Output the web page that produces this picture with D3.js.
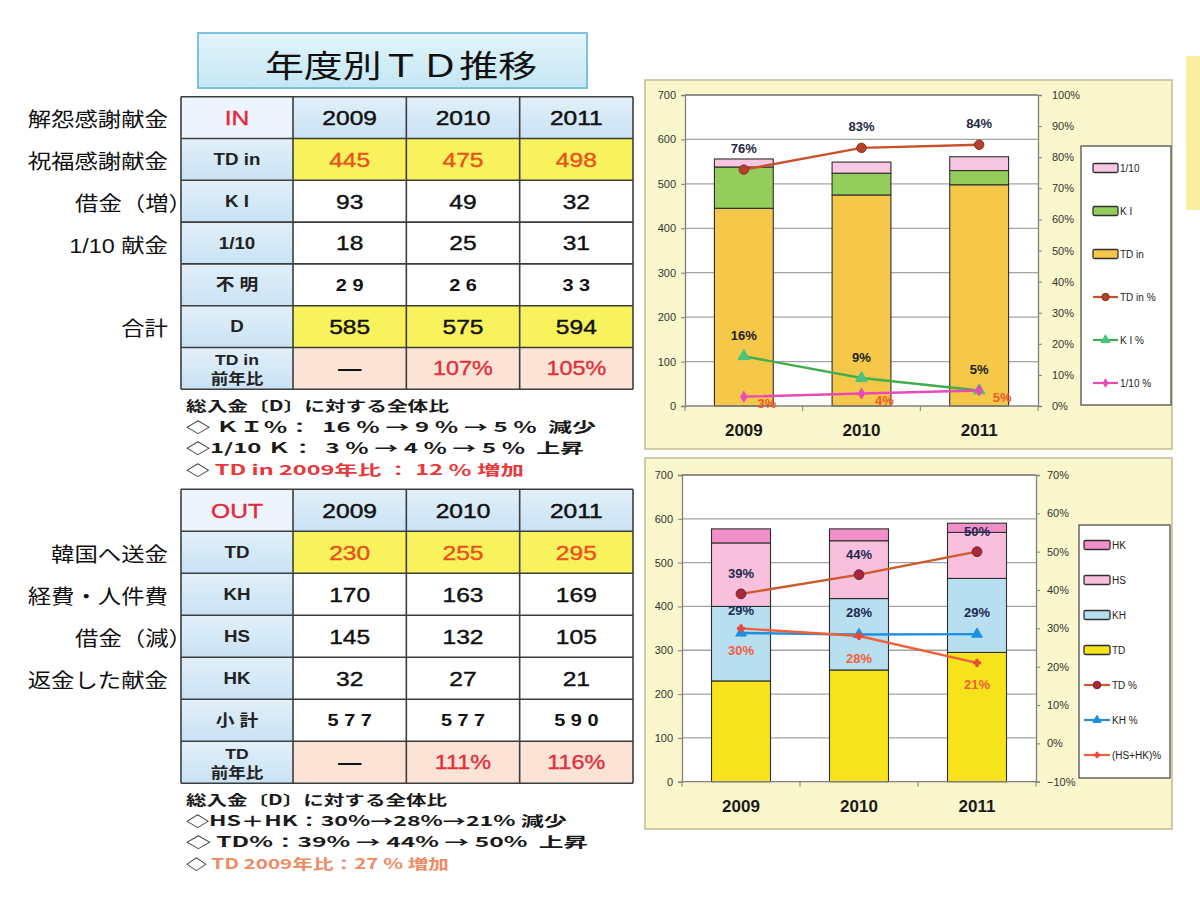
<!DOCTYPE html>
<html><head><meta charset="utf-8">
<script src="https://cdn.jsdelivr.net/npm/d3@7/dist/d3.min.js"></script>
<style>
body{margin:0;background:#fff;}
svg{display:block;font-family:"Liberation Sans","Noto Sans CJK JP",sans-serif;}
text{white-space:pre;}
</style>
</head><body>
<svg id="c" width="1200" height="900"></svg>
<script>
// ---------------- DATA ----------------
const years = ["2009","2010","2011"];
const pageTitle = "年度別ＴＤ推移";

// IN table
const inHeader = "IN";
const inCodes = ["TD in","K I","1/10","不 明","D","TD in|前年比"];
const inSideLabels = ["解怨感謝献金","祝福感謝献金","借金（増）","1/10 献金","","合計",""];
const inTD = [445,475,498];
const inKI = [93,49,32];
const inTenth = [18,25,31];
const inUnknown = [29,26,33];
const inTotal = [585,575,594];
const inTDRatio = ["—","107%","105%"];
const inNotes = ["総入金〔D〕に対する全体比",
                 "◇ ＫＩ％：  16 ％ → 9 ％ → 5 ％  減少",
                 "◇1/10 Ｋ：  3 ％ → 4 ％ → 5 ％  上昇",
                 "TD in 2009年比 ： 12 ％ 増加"];

// OUT table
const outHeader = "OUT";
const outCodes = ["TD","KH","HS","HK","小 計","TD|前年比"];
const outSideLabels = ["","韓国へ送金","経費・人件費","借金（減）","返金した献金","",""];
const outTD = [230,255,295];
const outKH = [170,163,169];
const outHS = [145,132,105];
const outHK = [32,27,21];
const outSubtotal = [577,577,590];
const outTDRatio = ["—","111%","116%"];
const outNotes = ["総入金〔D〕に対する全体比",
                  "◇HS＋HK：30%→28%→21% 減少",
                  "◇ TD%：39% → 44% → 50%  上昇",
                  "TD 2009年比：27 % 増加"];

// chart line series (percent of total)
const tdInPct = [76,83,84];
const kiPct = [16,9,5];
const tenthPct = [3,4,5];
const tdPct = [39,44,50];
const khPct = [28.8,28.4,28.5];
const khPctLabels = ["29%","28%","29%"];
const hsHkPct = [30,28,21];

// legend / series names
const inBarKeys = ["TD in","K I","1/10"];
const outBarKeys = ["TD","KH","HS","HK"];
const leftTicks = [0,100,200,300,400,500,600,700];
const topRightTicks = [0,10,20,30,40,50,60,70,80,90,100];
const bottomRightTicks = [-10,0,10,20,30,40,50,60,70];

// ---------------- DRAWING ----------------
const svg = d3.select("#c");
const defs = svg.append("defs");
const tg = defs.append("linearGradient").attr("id","titleG").attr("x1",0).attr("y1",0).attr("x2",0).attr("y2",1);
tg.append("stop").attr("offset","0%").attr("stop-color","#e4f5fb");
tg.append("stop").attr("offset","100%").attr("stop-color","#c4e6f3");
const bg = defs.append("linearGradient").attr("id","blueG").attr("x1",0).attr("y1",0).attr("x2",0).attr("y2",1);
bg.append("stop").attr("offset","0%").attr("stop-color","#e2f0fa");
bg.append("stop").attr("offset","100%").attr("stop-color","#c9e2f4");

// right edge yellow strip
svg.append("rect").attr("x",1186).attr("y",56).attr("width",14).attr("height",154).attr("fill","#f8f0a0");

// title
svg.append("rect").attr("x",198).attr("y",33).attr("width",389).attr("height",55)
  .attr("fill","url(#titleG)").attr("stroke","#7fc2dc").attr("stroke-width",2);
svg.append("text").attr("x",401).attr("y",63).attr("text-anchor","middle")
  .attr("dominant-baseline","central").attr("textLength",272).attr("lengthAdjust","spacingAndGlyphs")
  .style("font-size","31px").style("font-family","'Noto Sans CJK JP'").attr("fill","#111").text(pageTitle);

const SX = 1.17;
function stext(g, x, y, txt, o) {
  return g.append("text")
    .attr("transform", `translate(${x},${y}) scale(${SX},1)`)
    .attr("text-anchor", o.anchor || "middle")
    .attr("dominant-baseline","central")
    .style("font-size", o.size + "px")
    .style("font-weight", o.weight || "normal")
    .attr("fill", o.color || "#111")
    .attr("stroke", o.stroke ? (o.color || "#111") : null)
    .attr("stroke-width", o.stroke || null)
    .text(txt);
}

function drawTable(cfg) {
  const g = svg.append("g");
  const xLeft = 181, xCode = 293, xRight = 633;
  const nRows = cfg.codes.length + 1;
  const yB = d3.scaleBand().domain(d3.range(nRows)).range([cfg.top, cfg.bottom]);
  const xB = d3.scaleBand().domain(years).range([xCode, xRight]);
  const fills = {hi:"#f8f25c", plain:"#ffffff", small:"#ffffff", ratio:"#fbe3d6"};
  // header row
  g.append("rect").attr("x",xLeft).attr("y",yB(0)).attr("width",xCode-xLeft).attr("height",yB.bandwidth()).attr("fill","#eef4fb");
  years.forEach(y => g.append("rect").attr("x",xB(y)).attr("y",yB(0)).attr("width",xB.bandwidth()).attr("height",yB.bandwidth()).attr("fill","url(#blueG)"));
  stext(g, (xLeft+xCode)/2, yB(0)+yB.bandwidth()/2, cfg.header, {size:21, color:"#e2283a", stroke:0.4});
  years.forEach(y => stext(g, xB(y)+xB.bandwidth()/2, yB(0)+yB.bandwidth()/2, y, {size:21, stroke:0.45}));
  // body rows
  cfg.codes.forEach((code, r) => {
    const ri = r + 1, kind = cfg.kinds[r];
    const cy = yB(ri) + yB.bandwidth()/2;
    g.append("rect").attr("x",xLeft).attr("y",yB(ri)).attr("width",xCode-xLeft).attr("height",yB.bandwidth()).attr("fill","url(#blueG)");
    const parts = code.split("|");
    if (parts.length === 1) stext(g, (xLeft+xCode)/2, cy, code, {size:16, weight:"bold", color:"#222"});
    else parts.forEach((p,k) => stext(g, (xLeft+xCode)/2, cy + (k ? 10 : -9), p, {size:15, weight:"bold", color:"#222"}));
    years.forEach((y, j) => {
      g.append("rect").attr("x",xB(y)).attr("y",yB(ri)).attr("width",xB.bandwidth()).attr("height",yB.bandwidth())
        .attr("fill", fills[kind === "hiOrange" || kind === "hiBlack" ? "hi" : kind]);
      const v = cfg.rows[r][j];
      const cx = xB(y) + xB.bandwidth()/2;
      if (kind === "small") stext(g, cx, cy, String(v).split("").join(" "), {size:17, weight:"bold"});
      else if (kind === "ratio") {
        if (v === "—") stext(g, cx, cy, v, {size:20, weight:"bold", color:"#111"});
        else stext(g, cx, cy, v, {size:20, color:"#e2303a", stroke:0.35});
      }
      else stext(g, cx, cy, v, {size:21, color: kind === "hiOrange" ? "#e8521e" : "#111", stroke:0.4});
    });
  });
  // grid lines
  const xs = [xLeft, xCode, ...years.slice(1).map(y => xB(y)), xRight];
  xs.forEach(x => g.append("line").attr("x1",x).attr("x2",x).attr("y1",cfg.top).attr("y2",cfg.bottom).attr("stroke","#3d3d3d").attr("stroke-width",1.6));
  d3.range(nRows+1).map(i => i < nRows ? yB(i) : cfg.bottom).forEach(y =>
    g.append("line").attr("x1",xLeft).attr("x2",xRight).attr("y1",y).attr("y2",y).attr("stroke","#3d3d3d").attr("stroke-width",1.6));
  // side labels
  cfg.side.forEach((lab, i) => {
    if (!lab) return;
    const cy = yB(i) + yB.bandwidth()/2 + 3;
    const endX = lab.endsWith("）") ? 192 : 168;
    stext(g, endX, cy, lab, {size:20, anchor:"end", color:"#111"});
  });
  // notes
  const noteYs = [cfg.bottom + 16, cfg.bottom + 37, cfg.bottom + 58, cfg.bottom + 80];
  cfg.notes.forEach((n, i) => {
    const t = g.append("text").attr("x",186).attr("y",noteYs[i]).attr("dominant-baseline","central")
      .attr("textLength", cfg.noteW[i]).attr("lengthAdjust","spacingAndGlyphs")
      .style("font-family","'Noto Sans CJK JP'")
      .style("font-size","14px").style("font-weight","bold").attr("fill","#1a1a1a");
    if (i === 3) {
      t.append("tspan").text("◇ ");
      t.append("tspan").attr("fill", cfg.lastColor).text(n);
    } else t.text(n);
  });
}

drawTable({top:96.7, bottom:389.3, header:inHeader, codes:inCodes,
  rows:[inTD, inKI, inTenth, inUnknown, inTotal, inTDRatio],
  kinds:["hiOrange","plain","plain","small","hiBlack","ratio"],
  side:inSideLabels, notes:inNotes, noteW:[263,410,398,338], lastColor:"#e8383c"});
drawTable({top:489.3, bottom:783.3, header:outHeader, codes:outCodes,
  rows:[outTD, outKH, outHS, outHK, outSubtotal, outTDRatio],
  kinds:["hiOrange","plain","plain","plain","small","ratio"],
  side:outSideLabels, notes:outNotes, noteW:[261,381,402,263], lastColor:"#f08a62"});

// ---------------- CHARTS ----------------
function drawChart(cfg) {
  const g = svg.append("g");
  g.append("rect").attr("x",cfg.panel[0]).attr("y",cfg.panel[1]).attr("width",cfg.panel[2]).attr("height",cfg.panel[3])
    .attr("fill","#fbf7cc").attr("stroke","#c8c096").attr("stroke-width",1.6);
  const x = d3.scaleBand().domain(years).range([cfg.left, cfg.right]).paddingInner(0.5).paddingOuter(0.25);
  const cx = y => x(y) + x.bandwidth()/2;
  const yL = d3.scaleLinear().domain([0,700]).range([cfg.bottom, cfg.top]);
  const yR = d3.scaleLinear().domain(cfg.rDomain).range([cfg.bottom, cfg.top]);
  g.append("rect").attr("x",cfg.left).attr("y",cfg.top).attr("width",cfg.right-cfg.left).attr("height",cfg.bottom-cfg.top).attr("fill","#fff");
  // gridlines
  g.selectAll(".gl").data(leftTicks.filter(d => d > 0)).join("line")
    .attr("x1",cfg.left).attr("x2",cfg.right).attr("y1",d=>yL(d)).attr("y2",d=>yL(d))
    .attr("stroke", d => d === 700 ? "#6e6e6e" : "#a4a4a4").attr("stroke-width", d => d === 700 ? 1.6 : 1.3);
  // stacked bars
  const rows = years.map((y,i) => { const o = {year:y}; cfg.keys.forEach((k,j) => o[k] = cfg.values[j][i]); return o; });
  const stacked = d3.stack().keys(cfg.keys)(rows);
  stacked.forEach((layer, j) => {
    g.selectAll(null).data(layer).join("rect")
      .attr("x", d => x(d.data.year)).attr("width", x.bandwidth())
      .attr("y", d => yL(d[1])).attr("height", d => yL(d[0]) - yL(d[1]))
      .attr("fill", cfg.colors[j]).attr("stroke","#2e2e2e").attr("stroke-width",1.1);
  });
  // axes
  const axL = g.append("g").attr("transform",`translate(${cfg.left},0)`)
    .call(d3.axisLeft(yL).tickValues(leftTicks).tickSize(4).tickPadding(5));
  const axR = g.append("g").attr("transform",`translate(${cfg.right},0)`)
    .call(d3.axisRight(yR).tickValues(cfg.rTicks.map(d=>d/100)).tickFormat(d3.format(".0%")).tickSize(4).tickPadding(cfg.rPad));
  [axL, axR].forEach(a => {
    a.select(".domain").attr("stroke","#808080").attr("stroke-width",1.3);
    a.selectAll(".tick line").attr("stroke","#808080");
    a.selectAll("text").style("font-size","11px").attr("fill","#333").style("font-family","'Liberation Sans'");
  });
  const bx = g.append("g").attr("transform",`translate(0,${cfg.bottom})`);
  bx.append("line").attr("x1",cfg.left).attr("x2",cfg.right).attr("stroke","#808080").attr("stroke-width",1.3);
  d3.range(years.length+1).forEach(i => {
    const xx = cfg.left + i * x.step();
    bx.append("line").attr("x1",xx).attr("x2",xx).attr("y1",0).attr("y2",5).attr("stroke","#808080");
  });
  bx.call(d3.axisBottom(x).tickSize(0).tickPadding(18)).call(a => a.select(".domain").remove())
    .selectAll("text").style("font-size","17px").style("font-weight","bold").attr("fill","#1a1a1a");
  // lines
  cfg.lines.forEach(s => {
    const pts = s.values.map((v,i) => [cx(years[i]), yR(v/100)]);
    g.append("path").attr("d", d3.line()(pts)).attr("fill","none").attr("stroke",s.color).attr("stroke-width",2.4);
    g.selectAll(null).data(pts).join("path")
      .attr("transform", d => `translate(${d[0]},${d[1]})`)
      .attr("d", d3.symbol().type(s.symbol).size(s.size))
      .attr("fill", s.marker).attr("stroke", s.markerStroke || s.marker).attr("stroke-width",1);
    g.selectAll(null).data(pts).join("text")
      .attr("x", d => d[0] + s.dx).attr("y", d => d[1] + s.dy)
      .attr("text-anchor","middle").attr("dominant-baseline","central")
      .style("font-size","13px").style("font-weight","bold").attr("fill", s.labelColor)
      .text((d,i) => s.labels ? s.labels[i] : s.values[i] + "%");
  });
  // legend
  const L = cfg.legend;
  g.append("rect").attr("x",L.x).attr("y",L.y).attr("width",L.w).attr("height",L.h).attr("fill","#fff").attr("stroke","#505050").attr("stroke-width",1.3);
  const items = [...cfg.keys.map((k,j) => ({name:k, color:cfg.colors[j], bar:true})).reverse(),
                 ...cfg.lines.map(s => ({name:s.name, s}))];
  items.forEach((it, i) => {
    const yy = L.first + i * L.gap;
    if (it.bar) {
      g.append("rect").attr("x",L.sx).attr("y",yy-4.5).attr("width",L.sw).attr("height",9).attr("rx",1.5)
        .attr("fill",it.color).attr("stroke","#2e2e2e").attr("stroke-width",1.3);
    } else {
      g.append("line").attr("x1",L.sx).attr("x2",L.sx+L.sw).attr("y1",yy).attr("y2",yy).attr("stroke",it.s.color).attr("stroke-width",2.2);
      g.append("path").attr("transform",`translate(${L.sx+L.sw/2},${yy})`).attr("d",d3.symbol().type(it.s.symbol).size(it.s.size*0.6))
        .attr("fill",it.s.marker).attr("stroke",it.s.markerStroke || it.s.marker);
    }
    g.append("text").attr("x",L.sx+L.sw+2).attr("y",yy).attr("dominant-baseline","central")
      .style("font-size","10px").attr("fill","#222").text(it.name);
  });
}

drawChart({
  panel:[645,80,527,369], left:685, right:1038, top:95, bottom:406,
  rDomain:[0,1], rTicks:topRightTicks, rPad:10,
  keys:inBarKeys, values:[inTD, inKI, inTenth], colors:["#f6c84a","#93cd5c","#f8c8e2"],
  lines:[
    {name:"TD in %", values:tdInPct, color:"#c8502a", marker:"#b8412c", markerStroke:"#8a2e1c", symbol:d3.symbolCircle, size:70, dx:0, dy:-21, labelColor:"#1e2a44"},
    {name:"K I %", values:kiPct, color:"#43ad4c", marker:"#4cc27c", symbol:d3.symbolTriangle, size:60, dx:0, dy:-21, labelColor:"#222"},
    {name:"1/10 %", values:tenthPct, color:"#e84ab8", marker:"#e84ab8", symbol:d3.symbolDiamond, size:34, dx:23, dy:7, labelColor:"#f05a28"}
  ],
  legend:{x:1081, y:146, w:90, h:259, first:168, gap:43, sx:1093, sw:25}
});

drawChart({
  panel:[645,458,527,371], left:682, right:1036, top:475, bottom:781.7,
  rDomain:[-0.1,0.7], rTicks:bottomRightTicks, rPad:7,
  keys:outBarKeys, values:[outTD, outKH, outHS, outHK], colors:["#f6e31c","#b8dff0","#f8c0dc","#f190c8"],
  lines:[
    {name:"TD %", values:tdPct, color:"#cc5a2a", marker:"#a8283c", markerStroke:"#7e1e30", symbol:d3.symbolCircle, size:75, dx:0, dy:-20, labelColor:"#1c2a50"},
    {name:"KH %", values:khPct, labels:khPctLabels, color:"#1e90e0", marker:"#1e90e0", symbol:d3.symbolTriangle, size:50, dx:0, dy:-22, labelColor:"#1c2a50"},
    {name:"(HS+HK)%", values:hsHkPct, color:"#f0603a", marker:"#e84a3a", symbol:d3.symbolCross, size:28, dx:0, dy:22, labelColor:"#f0603a"}
  ],
  legend:{x:1079, y:525, w:91, h:253, first:545, gap:35, sx:1084, sw:26}
});
</script>
</body></html>
